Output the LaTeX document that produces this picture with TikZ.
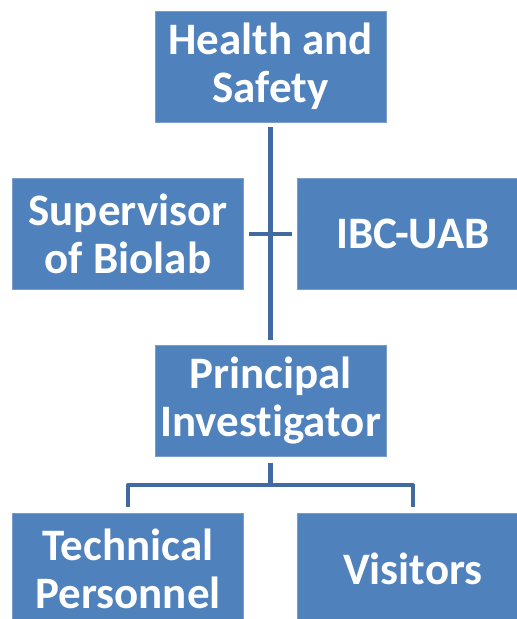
\documentclass[tikz,border=0pt]{standalone}
\usepackage{fontspec}
\setmainfont[RawFeature={-liga;-clig;-calt;-dlig}]{Carlito}
\definecolor{boxblue}{HTML}{4F81BD}
\definecolor{boxedge}{HTML}{7A9CCB}
\definecolor{linkblue}{RGB}{65,106,160}
\begin{document}
\begin{tikzpicture}[x=1pt,y=-1pt,
  orgbox/.style={rectangle, fill=boxblue, draw=boxedge, line width=0.8pt,
    minimum width=231pt, minimum height=111pt, inner sep=0pt,
    align=center, text=white,
    font=\fontsize{45}{48}\selectfont\bfseries},
  link/.style={draw=linkblue, line width=4.5pt}]
\useasboundingbox (0,0) rectangle (517,619);
\clip (0,0) rectangle (517,619);
\fill[white] (0,0) rectangle (517,619);
\node[orgbox] (hs)  at (270.5,66.5) {Health and\\Safety};
\node[orgbox] (sup) at (128,234) {Supervisor\\of Biolab};
\node[orgbox] (ibc) at (413,234) {IBC-UAB};
\node[orgbox] (pi)  at (270.5,401) {Principal\\Invest\kern0pt igator};
\node[orgbox] (tech) at (128,568.5) {Technical\\Personnel};
\node[orgbox] (vis) at (413,568.5) {Visitors};
\coordinate (bar) at (270.5,485);
\draw[link] ([yshift=-5pt]hs.south) -- ([yshift=5pt]pi.north);
\draw[link] ([xshift=5pt]sup.east) -- ([xshift=-5pt]ibc.west);
\draw[link] ([yshift=-6pt]pi.south) -- (bar);
\draw[link, line join=round] ([yshift=6pt]tech.north) |- (bar) -| ([yshift=6pt]vis.north);
\end{tikzpicture}
\end{document}
